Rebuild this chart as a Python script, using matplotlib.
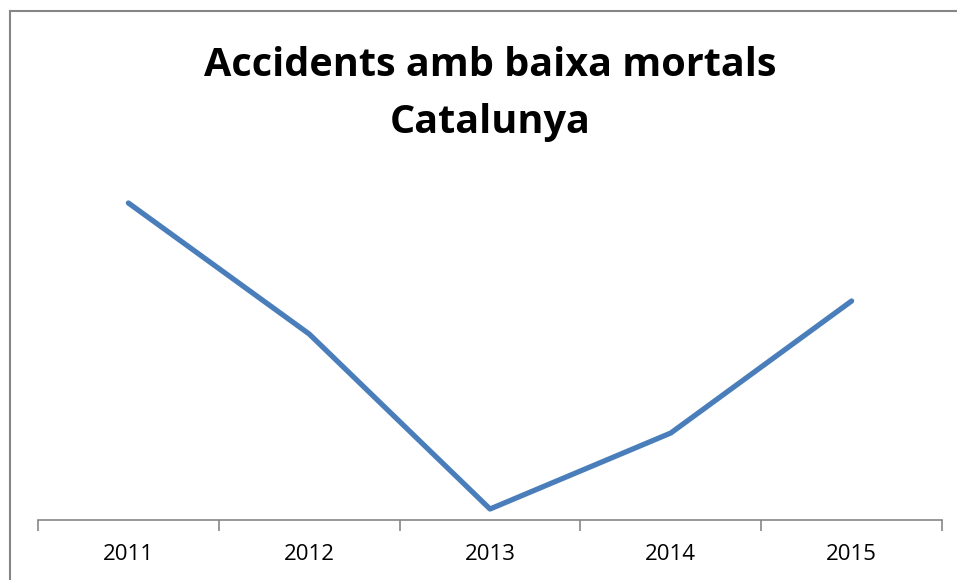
import matplotlib.pyplot as plt
from matplotlib.lines import Line2D

# Data (no y scale shown in the original; values read as relative heights)
years = ['2011', '2012', '2013', '2014', '2015']
values = [317, 186, 11, 87, 219]

plt.rcParams['font.family'] = ['Open Sans', 'DejaVu Sans']

fig = plt.figure(figsize=(9.57, 5.80), dpi=100)
ax = fig.add_axes([38 / 957, 60 / 580, 904 / 957, 370 / 580])

x = list(range(1, len(years) + 1))
ax.plot(x, values, color='#4A7EBB', linewidth=3.8, solid_capstyle='round',
        solid_joinstyle='round')

ax.set_xlim(0.5, len(years) + 0.5)
ax.set_ylim(0, 370)

# category axis: boundary ticks, centered labels
ax.set_xticks([i + 0.5 for i in range(0, len(years) + 1)])
ax.set_xticklabels([])
ax.set_xticks(x, minor=True)
ax.set_xticklabels(years, minor=True, fontsize=16)
ax.tick_params(axis='x', which='major', direction='out', length=8, width=1.2,
               color='#868686')
ax.tick_params(axis='x', which='minor', length=0, pad=17)
ax.set_yticks([])

for s in ['top', 'right', 'left']:
    ax.spines[s].set_visible(False)
ax.spines['bottom'].set_color('#868686')
ax.spines['bottom'].set_linewidth(1.2)

fig.text(490 / 957, 1 - 94 / 580, 'Accidents amb baixa mortals\nCatalunya',
         ha='center', va='center', fontsize=28.5, fontweight='bold',
         linespacing=1.62)

# chart frame (only left and top edges visible in the crop)
fig.add_artist(Line2D([9.5 / 957, 9.5 / 957], [0, 1 - 11 / 580],
                      color='#868686', linewidth=1.5, transform=fig.transFigure))
fig.add_artist(Line2D([9.5 / 957, 1], [1 - 11 / 580, 1 - 11 / 580],
                      color='#868686', linewidth=1.5, transform=fig.transFigure))

fig.savefig('out.png', dpi=100, facecolor='white')
